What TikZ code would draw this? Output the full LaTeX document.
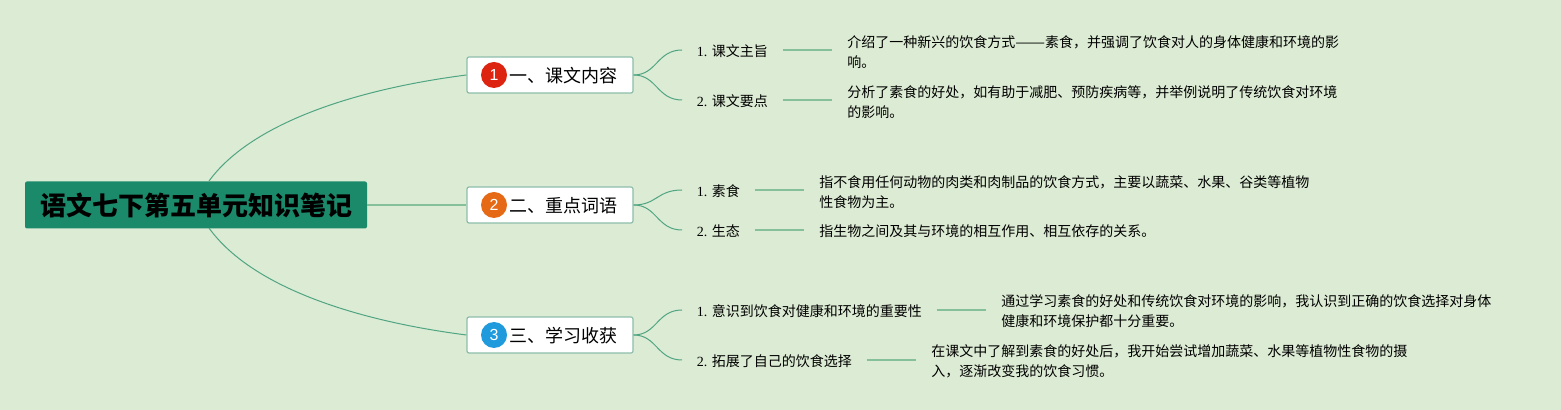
\documentclass[tikz,border=0pt]{standalone}
\usepackage{fontspec}
\setmainfont{Liberation Serif}
\newfontfamily\cjk{Noto Sans CJK SC}
\newfontfamily\numfont{Liberation Sans}
\usepackage{tikz}
\usetikzlibrary{positioning}
\definecolor{bgcol}{HTML}{DCEBD3}
\definecolor{rootcol}{HTML}{1B8A6B}
\definecolor{edgecol}{HTML}{4FA583}
\definecolor{leafcol}{HTML}{86C09B}
\definecolor{boxcol}{HTML}{8DBDAA}
\definecolor{badgeone}{HTML}{DD2410}
\definecolor{badgetwo}{HTML}{E66A16}
\definecolor{badgethree}{HTML}{1F9BDD}
\tikzstyle{rootbox}=[rectangle, rounded corners=1pt, fill=rootcol, minimum width=171pt, minimum height=23.5pt, inner sep=0pt, font=\cjk\bfseries\fontsize{13}{16}\selectfont]
\tikzstyle{branch}=[rectangle, rounded corners=1pt, draw=boxcol, line width=0.6pt, fill=white, minimum width=83pt, minimum height=18pt, inner sep=0pt, text height=8.8pt, text depth=1pt, font=\cjk\fontsize{9}{11}\selectfont]
\tikzstyle{badge}=[circle, minimum size=13pt, inner sep=0pt, text=white, font=\numfont\fontsize{8}{10}\selectfont]
\tikzstyle{sub}=[rectangle, anchor=west, inner xsep=7.25pt, inner ysep=1pt, text height=7.1pt, text depth=0.8pt, font=\fontsize{7}{10}\selectfont]
\tikzstyle{detail}=[rectangle, anchor=west, inner xsep=7.5pt, inner ysep=1pt, align=left, font=\cjk\fontsize{7}{10}\selectfont]

\begin{document}
\begin{tikzpicture}[x=0.5pt, y=-0.5pt, link/.style={edgecol, line width=0.5pt}, thicklink/.style={leafcol, line width=0.8pt}]
\useasboundingbox[fill=bgcol] (0,0) rectangle (1561,410);

% root and branches
\node[rootbox] (root) at (196,205) {语文七下第五单元知识笔记};
\node[branch] (b1) at (550,75) {\hspace*{13.5pt}一、课文内容};
\node[branch] (b2) at (550,205) {\hspace*{13.5pt}二、重点词语};
\node[branch] (b3) at (550,335) {\hspace*{13.5pt}三、学习收获};
\node[badge,fill=badgeone] (n1) at (494,75) {1};
\node[badge,fill=badgetwo] (n2) at (494,205) {2};
\node[badge,fill=badgethree] (n3) at (494,335) {3};

\coordinate (rt) at (209,181);
\coordinate (rb) at (209,228);

% labels
\node[sub] (s1) at (682,50) {1.\hspace{2.2pt}{\cjk 课文主旨}};
\node[sub] (s2) at (682,100) {2.\hspace{2.2pt}{\cjk 课文要点}};
\node[sub] (s3) at (682,190) {1.\hspace{2.2pt}{\cjk 素食}};
\node[sub] (s4) at (682,230) {2.\hspace{2.2pt}{\cjk 生态}};
\node[sub] (s5) at (682,310) {1.\hspace{2.2pt}{\cjk 意识到饮食对健康和环境的重要性}};
\node[sub] (s6) at (682,360) {2.\hspace{2.2pt}{\cjk 拓展了自己的饮食选择}};

% details
\node[detail] (d1) at (832,52) {介绍了一种新兴的饮食方式\scalebox{1.27}[1]{——}素食，并强调了饮食对人的身体健康和环境的影\\响。};
\node[detail] (d2) at (832,102) {分析了素食的好处，如有助于减肥、预防疾病等，并举例说明了传统饮食对环境\\的影响。};
\node[detail] (d3) at (804,192) {指不食用任何动物的肉类和肉制品的饮食方式，主要以蔬菜、水果、谷类等植物\\性食物为主。};
\node[detail] (d4) at (804,231) {指生物之间及其与环境的相互作用、相互依存的关系。};
\node[detail] (d5) at (986,311) {通过学习素食的好处和传统饮食对环境的影响，我认识到正确的饮食选择对身体\\健康和环境保护都十分重要。};
\node[detail] (d6) at (916,361) {在课文中了解到素食的好处后，我开始尝试增加蔬菜、水果等植物性食物的摄\\入，逐渐改变我的饮食习惯。};

% root links
\draw[link] (rt) .. controls (250,125) and (350,90) .. (b1.west);
\draw[thicklink] (root.east) -- (b2.west);
\draw[link] (rb) .. controls (250,285) and (350,320) .. (b3.west);

% branch links
\draw[link] (b1.east) .. controls (657,75) and (657,50) .. (s1.west);
\draw[link] (b1.east) .. controls (657,75) and (657,100) .. (s2.west);
\draw[link] (b2.east) .. controls (657,205) and (657,190) .. (s3.west);
\draw[link] (b2.east) .. controls (657,205) and (657,230) .. (s4.west);
\draw[link] (b3.east) .. controls (657,335) and (657,310) .. (s5.west);
\draw[link] (b3.east) .. controls (657,335) and (657,360) .. (s6.west);

% leaf links
\foreach \i in {1,...,6}
  \draw[thicklink] (s\i.east) -- (s\i.east -| d\i.west);
\end{tikzpicture}
\end{document}
